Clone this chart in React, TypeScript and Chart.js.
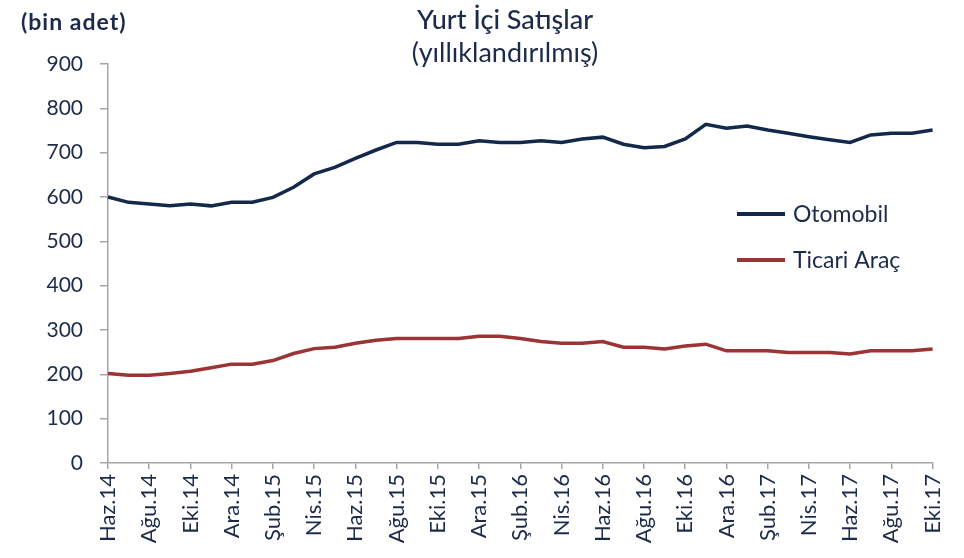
import React, { useEffect, useRef } from "react";
import { Chart, registerables } from "chart.js";

Chart.register(...registerables);

const months = ["Oca", "Şub", "Mar", "Nis", "May", "Haz", "Tem", "Ağu", "Eyl", "Eki", "Kas", "Ara"];
// Haz.14 .. Eki.17 (monthly)
const categories: string[] = [];
for (let y = 14; y <= 17; y++) {
  for (let m = 0; m < 12; m++) {
    if (y === 14 && m < 5) continue;
    if (y === 17 && m > 9) continue;
    categories.push(`${months[m]}.${y}`);
  }
}

const otomobil = [
  600, 588, 584, 580, 584, 580, 588, 588, 599, 622, 652, 667, 687, 706, 723,
  723, 719, 719, 727, 723, 723, 727, 723, 731, 735, 719, 711, 714, 731, 764,
  755, 760, 751, 744, 736, 729, 723, 740, 744, 744, 751,
];
const ticari = [
  202, 198, 198, 202, 207, 215, 223, 223, 231, 247, 258, 261, 270, 277, 281,
  281, 281, 281, 286, 286, 281, 274, 270, 270, 274, 261, 261, 257, 264, 268,
  253, 253, 253, 249, 249, 249, 246, 253, 253, 253, 257,
];

const yTicks = [0, 100, 200, 300, 400, 500, 600, 700, 800, 900];

const TEXT = "#1d2b4a";
const AXIS = "#a6a6a6";
const FONT = "Lato, 'Open Sans', sans-serif";

const overlay = {
  id: "overlay",
  afterDraw(chart: any) {
    const ctx = chart.ctx;
    ctx.save();
    ctx.fillStyle = TEXT;
    ctx.textBaseline = "alphabetic";
    ctx.textAlign = "left";
    ctx.font = `700 23px ${FONT}`;
    (ctx as any).letterSpacing = "1px";
    ctx.fillText("(bin adet)", 21, 30);
    (ctx as any).letterSpacing = "0px";
    ctx.textAlign = "center";
    ctx.font = `500 27px ${FONT}`;
    ctx.fillText("Yurt İçi Satışlar", 505, 29);
    ctx.font = `400 27px ${FONT}`;
    ctx.fillText("(yıllıklandırılmış)", 505, 62);
    // legend
    const items = chart.data.datasets;
    const ys = [214, 260];
    ctx.textAlign = "left";
    ctx.textBaseline = "middle";
    ctx.font = `400 23px ${FONT}`;
    items.forEach((ds: any, i: number) => {
      ctx.strokeStyle = ds.borderColor;
      ctx.lineWidth = 4;
      ctx.beginPath();
      ctx.moveTo(737, ys[i]);
      ctx.lineTo(785, ys[i]);
      ctx.stroke();
      ctx.fillStyle = TEXT;
      ctx.fillText(ds.label, 793, ys[i] + 1);
    });
    ctx.restore();
  },
};

export default function App() {
  const ref = useRef<HTMLCanvasElement>(null);
  useEffect(() => {
    const chart = new Chart(ref.current!, {
      type: "line",
      data: {
        labels: categories,
        datasets: [
          {
            label: "Otomobil",
            data: otomobil,
            borderColor: "#13294b",
            backgroundColor: "#13294b",
            borderWidth: 3.5,
            pointRadius: 0,
            tension: 0,
          },
          {
            label: "Ticari Araç",
            data: ticari,
            borderColor: "#9b3434",
            backgroundColor: "#9b3434",
            borderWidth: 3.5,
            pointRadius: 0,
            tension: 0,
          },
        ],
      },
      options: {
        animation: false,
        responsive: false,
        layout: { padding: { top: 64, right: 31, bottom: 0, left: 0 } },
        plugins: { legend: { display: false }, title: { display: false }, tooltip: { enabled: false } },
        scales: {
          x: {
            offset: false,
            border: { color: AXIS, width: 1.5 },
            grid: {
              drawOnChartArea: false,
              tickLength: 6,
              color: (c: any) => (c.index % 2 === 0 ? AXIS : "rgba(0,0,0,0)"),
              lineWidth: 1.5,
            },
            ticks: {
              autoSkip: false,
              maxRotation: 90,
              minRotation: 90,
              padding: 5,
              color: TEXT,
              font: { family: FONT, size: 22 },
              callback: (_v: any, i: number) => (i % 2 === 0 ? categories[i] : ""),
            },
            afterFit: (s: any) => {
              s.height = 95;
            },
          },
          y: {
            min: 0,
            max: 900,
            border: { color: AXIS, width: 1.5 },
            grid: { drawOnChartArea: false, tickLength: 8, color: AXIS, lineWidth: 1.5 },
            afterBuildTicks: (s: any) => {
              s.ticks = yTicks.map((v) => ({ value: v }));
            },
            ticks: {
              padding: 17,
              color: TEXT,
              font: { family: FONT, size: 21 },
            },
            afterFit: (s: any) => {
              s.width = 108;
            },
          },
        },
      },
      plugins: [overlay],
    });
    return () => chart.destroy();
  }, []);
  return (
    <div style={{ position: "absolute", left: 0, top: 0, width: 964, height: 558 }}>
      <canvas ref={ref} width={964} height={558} />
    </div>
  );
}
